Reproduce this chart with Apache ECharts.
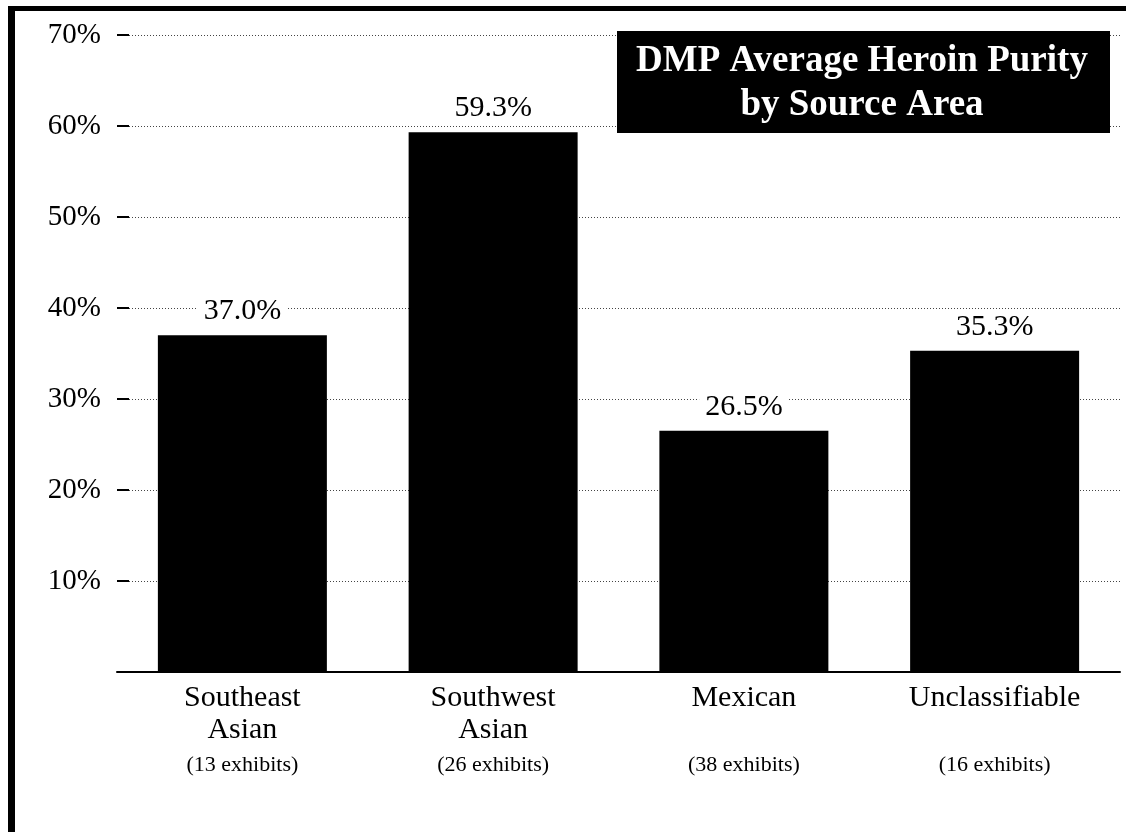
<!DOCTYPE html>
<html>
<head>
<meta charset="utf-8">
<script src="https://cdn.jsdelivr.net/npm/echarts@6/dist/echarts.min.js"></script>
<style>
html,body{margin:0;padding:0;background:#fff;}
#chart{width:1126px;height:832px;}
</style>
</head>
<body>
<div id="chart"></div>
<script>
// ---- data ----
var categories = ['Southeast Asian', 'Southwest Asian', 'Mexican', 'Unclassifiable'];
var labelLine1 = ['Southeast', 'Southwest', 'Mexican', 'Unclassifiable'];
var labelLine2 = ['Asian', 'Asian', '', ''];
var exhibitCounts = [13, 26, 38, 16];
var purity = [37.0, 59.3, 26.5, 35.3];
var titleLines = ['DMP Average Heroin Purity', 'by Source Area'];

var serif = '"Liberation Serif", "Times New Roman", serif';
var chart = echarts.init(document.getElementById('chart'), null, {renderer: 'canvas'});

var option = {
  backgroundColor: '#fff',
  animation: false,
  grid: {left: 117, right: 6, top: 35, bottom: 160, containLabel: false},
  xAxis: {
    type: 'category',
    data: categories,
    axisLine: {show: true, lineStyle: {color: '#000', width: 2}},
    axisTick: {show: false},
    splitLine: {show: false},
    axisLabel: {
      interval: 0,
      margin: 10,
      formatter: function (v, i) {
        var l2 = labelLine2[i] ? labelLine2[i] : ' ';
        return '{a|' + labelLine1[i] + '}\n{a|' + l2 + '}\n{b|(' + exhibitCounts[i] + ' exhibits)}';
      },
      rich: {
        a: {fontFamily: serif, fontSize: 30, lineHeight: 32, color: '#000'},
        b: {fontFamily: serif, fontSize: 22, lineHeight: 38, color: '#000'}
      }
    }
  },
  yAxis: {
    type: 'value',
    min: 0,
    max: 70,
    interval: 10,
    axisLine: {show: false},
    axisTick: {show: true, inside: true, length: 12, lineStyle: {color: '#000', width: 2}},
    splitLine: {show: true, lineStyle: {color: '#444', width: 1, type: [1, 2]}},
    axisLabel: {
      margin: 16,
      fontFamily: serif,
      fontSize: 29,
      color: '#000',
      formatter: function (v) { return v === 0 ? '' : v + '%'; }
    }
  },
  series: [{
    type: 'bar',
    data: purity,
    barWidth: 169,
    itemStyle: {color: '#000'},
    label: {
      show: true,
      position: 'top',
      distance: 9,
      fontFamily: serif,
      fontSize: 30,
      color: '#000',
      backgroundColor: '#fff',
      padding: [0, 6],
      formatter: function (p) { return p.value.toFixed(1) + '%'; }
    }
  }],
  graphic: [
    {type: 'rect', shape: {x: 8, y: 6, width: 7, height: 826}, style: {fill: '#000'}, z: 100},
    {type: 'rect', shape: {x: 8, y: 6, width: 1118, height: 5}, style: {fill: '#000'}, z: 100},
    {type: 'rect', shape: {x: 617, y: 31, width: 493, height: 102}, style: {fill: '#000'}, z: 100},
    {
      type: 'text', x: 862, y: 83, z: 101,
      style: {
        text: titleLines.join('\n'),
        fill: '#fff',
        font: 'bold 37px ' + serif,
        lineHeight: 44,
        align: 'center',
        verticalAlign: 'middle'
      }
    }
  ]
};
chart.setOption(option);
</script>
</body>
</html>
